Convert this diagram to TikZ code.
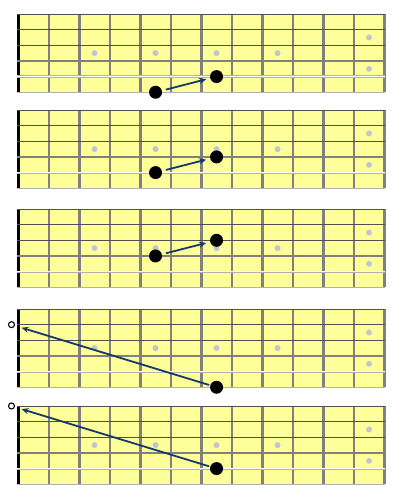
\documentclass[tikz,border=0pt]{standalone}
\usetikzlibrary{arrows,arrows.meta}
\definecolor{board}{RGB}{255,255,153}
\definecolor{fretgray}{RGB}{128,128,128}
\definecolor{dotgray}{RGB}{196,196,206}
\definecolor{darkstr}{RGB}{80,80,80}
\definecolor{lightstr}{RGB}{178,178,178}
\definecolor{moveblue}{RGB}{22,56,108}
\begin{document}
\begin{tikzpicture}[line join=round,>={Stealth[length=7pt,width=6pt]},x=1pt,y=-1pt]
\tikzset{finger/.style={circle,fill=black,inner sep=0pt,minimum size=13pt},
  openstr/.style={circle,draw=black,fill=white,line width=1.1pt,inner sep=0pt,minimum size=6pt},
  move/.style={->,draw=moveblue,line width=1.8pt,shorten <=4pt,shorten >=4pt}}
\useasboundingbox (0,0) rectangle (400,500);
% five fretboards, 12 frets each
\foreach \t in {14,110,209,309,406}{
\fill[board] (18.3,\t) rectangle (384.3,\t+78.25);
\foreach \i in {1,...,12}{\draw[fretgray,line width=2.5pt] (18.3+30.5*\i,\t)--(18.3+30.5*\i,\t+78.25);}
\foreach \i in {3,5,7,9}{\fill[dotgray] (3.05+30.5*\i,\t+39.1) circle(3pt);}
\foreach \j in {23.5,54.8}{\fill[dotgray] (369.05,\t+\j) circle(3pt);}
\draw[black,line width=3.4pt] (18.3,\t)--(18.3,\t+78.25);
\foreach \k in {0,1,2}{\draw[darkstr,line width=0.9pt] (16.6,\t+15.65*\k)--(385.4,\t+15.65*\k);}
\draw[fretgray,line width=1.6pt] (16.6,\t+46.95)--(385.4,\t+46.95);
\draw[lightstr,line width=2.2pt] (16.6,\t+62.6)--(385.4,\t+62.6);
\draw[white,line width=0.7pt] (16.6,\t+62.6)--(385.4,\t+62.6);
\draw[lightstr,line width=1.4pt] (16.6,\t+78.25)--(385.4,\t+78.25);
}
% fingerings
\node[finger] (a1) at (155.55,92.25) {};
\node[finger] (b1) at (216.55,76.6) {};
\draw[move] (a1)--(b1);
\node[finger] (a2) at (155.55,172.6) {};
\node[finger] (b2) at (216.55,156.95) {};
\draw[move] (a2)--(b2);
\node[finger] (a3) at (155.55,255.95) {};
\node[finger] (b3) at (216.55,240.3) {};
\draw[move] (a3)--(b3);
\node[finger] (a4) at (216.55,387.25) {};
\node[openstr] (o4) at (11.5,324.65) {};
\draw[move,shorten <=1pt,shorten >=7pt] (a4)--(o4);
\node[finger] (a5) at (216.55,468.6) {};
\node[openstr] (o5) at (11.5,406) {};
\draw[move,shorten <=1pt,shorten >=7pt] (a5)--(o5);
\end{tikzpicture}
\end{document}
